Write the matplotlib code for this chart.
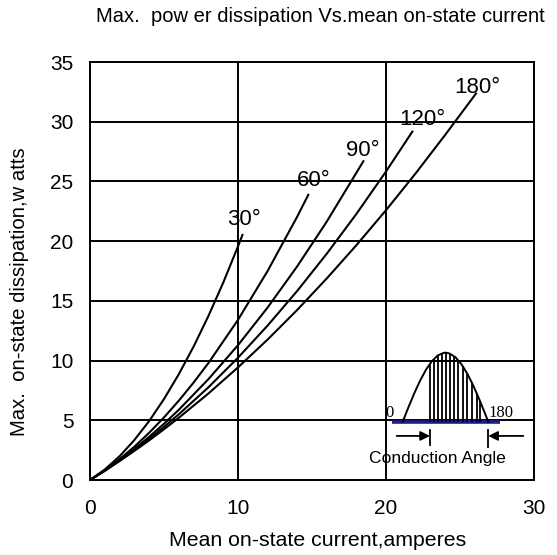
import matplotlib
matplotlib.use("Agg")
import matplotlib.pyplot as plt
import numpy as np

plt.rcParams['font.family'] = ['Liberation Sans', 'DejaVu Sans']

# ---- data ----
angles = ["30°", "60°", "90°", "120°", "180°"]
curve_x = {
    "30°": [0, 1, 2, 3, 4, 5, 6, 7, 8, 9, 10, 10.3],
    "60°": [0, 1, 2, 3, 4, 5, 6, 7, 8, 10, 12, 14, 14.75],
    "90°": [0, 1, 2, 3, 4, 5, 6, 8, 10, 12, 14, 16, 18.47],
    "120°": [0, 1, 2, 3, 4, 5, 6, 8, 10, 12, 14, 16, 18, 20, 21.78],
    "180°": [0, 1, 2, 3, 4, 5, 6, 8, 10, 12, 14, 16, 18, 20, 22, 24, 26.08],
}
curve_y = {
    "30°": [0, 0.88, 1.99, 3.35, 4.94, 6.78, 8.86, 11.17, 13.73, 16.52, 19.56, 20.52],
    "60°": [0, 0.81, 1.75, 2.79, 3.96, 5.24, 6.64, 8.16, 9.79, 13.41, 17.50, 22.05, 23.88],
    "90°": [0, 0.79, 1.66, 2.60, 3.62, 4.71, 5.88, 8.44, 11.29, 14.44, 17.89, 21.64, 26.69],
    "120°": [0, 0.78, 1.62, 2.51, 3.45, 4.45, 5.50, 7.76, 10.24, 12.93, 15.83, 18.95,
             22.28, 25.83, 29.17],
    "180°": [0, 0.77, 1.59, 2.44, 3.32, 4.25, 5.21, 7.24, 9.43, 11.76, 14.24, 16.88,
             19.66, 22.59, 25.67, 28.90, 32.36],
}
label_x = [9.24, 13.97, 17.30, 20.90, 24.59]
label_y = [21.36, 24.62, 27.14, 29.73, 32.39]

x_ticks = [0, 10, 20, 30]
y_ticks = [0, 5, 10, 15, 20, 25, 30, 35]

# inset (conduction angle sketch)
pulse_x = [21.13, 21.5, 21.9, 22.3, 22.7, 23.1, 23.5, 23.9, 24.05, 24.3, 24.7,
           25.1, 25.5, 25.9, 26.3, 26.6, 26.91]
pulse_y = [4.88, 6.04, 7.23, 8.31, 9.23, 9.95, 10.43, 10.65, 10.66, 10.59, 10.27,
           9.69, 8.89, 7.90, 6.76, 5.85, 4.88]
hatch_x = [22.97, 23.26, 23.53, 23.76, 24.05, 24.32, 24.59, 24.89, 25.18,
           25.49, 25.79, 26.13, 26.35]
base_x = [20.38, 27.7]
base_y = 4.86

fig = plt.figure(figsize=(5.57, 5.55), dpi=100)
ax = fig.add_axes([90/557, 1-480/555, 444/557, 418/555])

ax.set_xlim(0, 30)
ax.set_ylim(0, 35)
ax.set_xticks(x_ticks)
ax.set_yticks(y_ticks)
ax.tick_params(axis='both', length=0, labelsize=15)
ax.tick_params(axis='x', pad=13.5)
ax.tick_params(axis='y', pad=12)
ax.grid(True, color='black', linewidth=1.4)
ax.set_axisbelow(True)
for sp in ax.spines.values():
    sp.set_linewidth(1.4)
    sp.set_color('black')

for name, lx, ly in zip(angles, label_x, label_y):
    ax.plot(curve_x[name], curve_y[name], color='black', lw=1.5,
            solid_joinstyle='round', zorder=3)
    ax.text(lx, ly, name, fontsize=16, ha='left', va='baseline', zorder=4)

# inset
ax.plot(base_x, [base_y, base_y], color='#1c1c8a', lw=2.6, zorder=3, solid_capstyle='butt')
ax.plot(pulse_x, pulse_y, color='black', lw=1.4, zorder=4)
tops = np.interp(hatch_x, pulse_x, pulse_y)
ax.vlines(hatch_x, base_y, tops, color='black', lw=1.3, zorder=4)
ax.text(20.27, 5.3, "0", fontsize=12, family='Liberation Serif', ha='center', va='baseline', zorder=4)
ax.text(27.74, 5.3, "180", fontsize=12, family='Liberation Serif', ha='center', va='baseline', zorder=4)
ax.annotate("", xy=(22.97, 3.69), xytext=(20.72, 3.69),
            arrowprops=dict(arrowstyle='-|>', color='black', lw=1.3, mutation_scale=14,
                            shrinkA=0, shrinkB=0))
ax.annotate("", xy=(26.91, 3.69), xytext=(29.28, 3.69),
            arrowprops=dict(arrowstyle='-|>', color='black', lw=1.3, mutation_scale=14,
                            shrinkA=0, shrinkB=0))
ax.plot([22.97, 22.97], [2.93, 4.19], color='black', lw=1.3)
ax.plot([26.91, 26.91], [2.76, 4.19], color='black', lw=1.3)
ax.text(23.45, 1.42, "Conduction Angle", fontsize=12.6, ha='center', va='baseline', zorder=4)

ax.set_xlabel("Mean on-state current,amperes", fontsize=15.3)
ax.xaxis.set_label_coords(0.512, -0.122)
ax.set_ylabel("Max.  on-state dissipation,w atts", fontsize=14.6)
ax.yaxis.set_label_coords(-0.137, 0.45)
fig.text(320/557, 1-16/555, "Max.  pow er dissipation Vs.mean on-state current",
         fontsize=14.5, ha='center', va='center')

fig.savefig("out.png", dpi=100)
